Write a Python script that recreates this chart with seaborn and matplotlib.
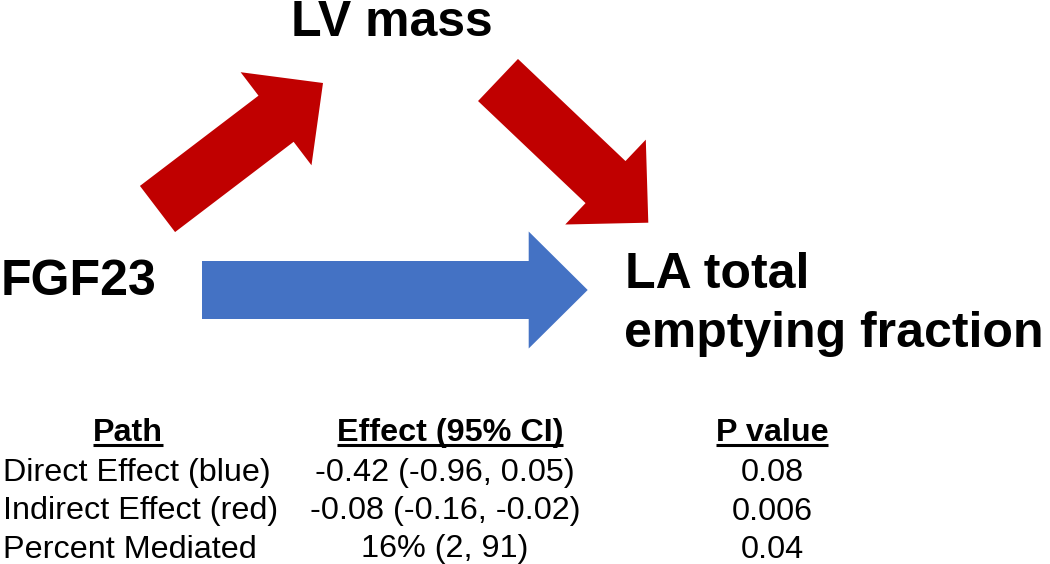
import matplotlib
matplotlib.use("Agg")
import matplotlib.pyplot as plt
import seaborn as sns
from matplotlib.patches import FancyArrow

# node labels
exposure = "FGF23"
mediator = "LV mass"
outcome = ["LA total", "emptying fraction"]

# mediation table
headers = ["Path", "Effect (95% CI)", "P value"]
paths = ["Direct Effect (blue)", "Indirect Effect (red)", "Percent Mediated"]
effects = ["-0.42 (-0.96, 0.05)", "-0.08 (-0.16, -0.02)", "16% (2, 91)"]
p_values = ["0.08", "0.006", "0.04"]

RED = "#C00000"
BLUE = "#4472C4"

sns.set_theme(style="white")
plt.rcParams["font.family"] = ["Liberation Sans", "DejaVu Sans"]
plt.rcParams["text.color"] = "black"

W, H = 1050, 564
fig = plt.figure(figsize=(W / 100, H / 100), dpi=100)
ax = fig.add_axes([0, 0, 1, 1])
ax.set_xlim(0, W)
ax.set_ylim(H, 0)
ax.axis("off")

# arrows: (tail x, tail y, tip x, tip y, colour)
arrows = [
    (157.5, 209, 323, 83, RED),      # FGF23 -> LV mass
    (498, 80, 648.3, 222.7, RED),    # LV mass -> LA
    (202, 290, 587.7, 290, BLUE),    # direct path
]
for x0, y0, x1, y1, c in arrows:
    ax.add_patch(FancyArrow(x0, y0, x1 - x0, y1 - y0, width=58, head_width=117,
                            head_length=59, length_includes_head=True,
                            color=c, lw=0))

big = 36
ax.text(392, 36, mediator, fontsize=big, fontweight="bold", ha="center", va="baseline")
ax.text(1, 295, exposure, fontsize=big, fontweight="bold", ha="left", va="baseline")
ax.text(625, 288, outcome[0], fontsize=big, fontweight="bold", ha="left", va="baseline")
ax.text(624, 347, outcome[1], fontsize=big, fontweight="bold", ha="left", va="baseline")

# table
small = 23.3
head_pos = [(128, 441), (450, 441), (772, 441)]
head_txt = []
for (x, y), h in zip(head_pos, headers):
    head_txt.append(ax.text(x, y, h, fontsize=small, fontweight="bold",
                            ha="center", va="baseline"))

rows_y = [481, 519.5, 557.5]
for y, p, e, pv in zip(rows_y, paths, effects, p_values):
    ax.text(3, y, p, fontsize=small, ha="left", va="baseline")
    ax.text(445, y, e, fontsize=small, ha="center", va="baseline")
    ax.text(772, y, pv, fontsize=small, ha="center", va="baseline")

# underline the headers
fig.canvas.draw()
inv = ax.transData.inverted()
for t in head_txt:
    bb = t.get_window_extent()
    (xa, _), (xb, _) = inv.transform([(bb.x0, bb.y0), (bb.x1, bb.y0)])
    ax.plot([xa, xb], [444.8, 444.8], color="black", lw=2.2, solid_capstyle="butt")

fig.savefig("out.png", dpi=100)
